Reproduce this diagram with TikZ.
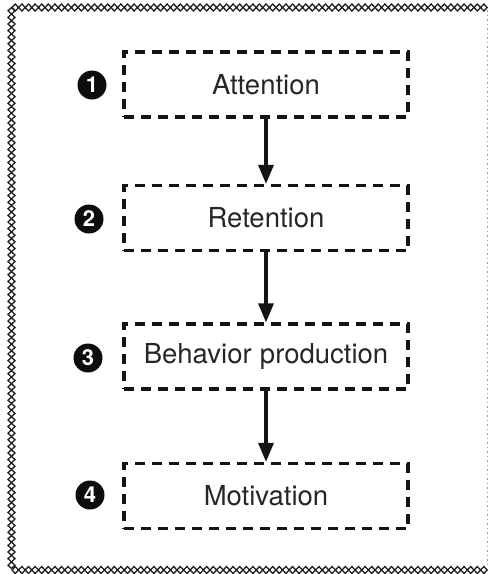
\documentclass[tikz,border=0pt]{standalone}
\usepackage{fontspec}
\setmainfont{TeX Gyre Heros}
\usetikzlibrary{arrows.meta}
\begin{document}
\begin{tikzpicture}[x=1pt,y=-1pt,
  stepbox/.style={draw=black!92, line width=3.2pt, dash pattern=on 10pt off 7pt,
    minimum width=284pt, minimum height=65pt, inner sep=0pt,
    font=\fontsize{27.5}{30}\selectfont, text=black!85},
  numdot/.style={circle, fill=black!95, minimum size=29pt, inner sep=0pt,
    text=white, font=\fontsize{22}{22}\selectfont\bfseries},
  flow/.style={line width=3.2pt, draw=black!92, -{Triangle[length=19pt,width=15pt]}},
  chainlink/.style={draw=black!88, line width=1.3pt}]
\useasboundingbox (0,0) rectangle (488,574);
% decorative border
\foreach \i in {0,...,71}{
  \draw[chainlink] (12+\i*6.6,7.5) -- ++(3.3,-3.5) -- ++(3.3,3.5) -- ++(-3.3,3.5) -- cycle;
  \draw[chainlink] (12+\i*6.6,570) -- ++(3.3,-3.5) -- ++(3.3,3.5) -- ++(-3.3,3.5) -- cycle;
}
\foreach \i in {0,...,84}{
  \draw[chainlink] (11.5,7.5+\i*6.6) -- ++(3.5,3.3) -- ++(-3.5,3.3) -- ++(-3.5,-3.3) -- cycle;
}
\draw[black!40, line width=1pt, dash pattern=on 1.5pt off 3pt] (487,10) -- (487,567);
% boxes
\node[stepbox] (att) at (266,84.5) {Attention};
\node[stepbox] (ret) at (266,218) {Retention};
\node[stepbox] (beh) at (266,356.5) {Behavior\hspace{0.3em}production};
\node[stepbox] (mot) at (266,496) {Motivation};
% numbers
\node[numdot] (n1) at (92,85) {1};
\node[numdot] (n2) at (89,219) {2};
\node[numdot] (n3) at (88,358) {3};
\node[numdot] (n4) at (90,495) {4};
% arrows
\draw[flow] (att.south) -- (ret.north);
\draw[flow] (ret.south) -- (beh.north);
\draw[flow] (beh.south) -- (mot.north);
\end{tikzpicture}
\end{document}
